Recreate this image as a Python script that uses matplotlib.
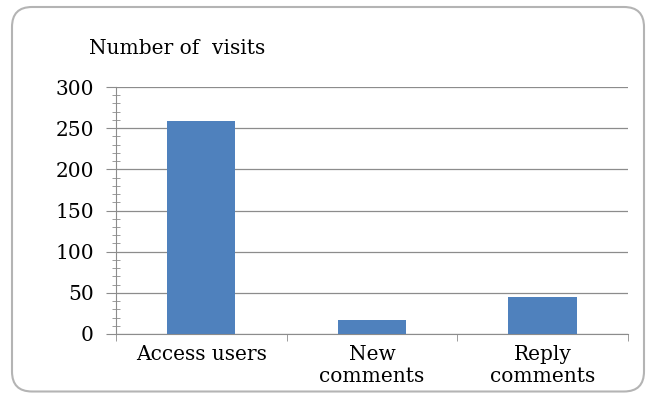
import matplotlib.pyplot as plt
from matplotlib.patches import FancyBboxPatch
from matplotlib.ticker import MultipleLocator, FixedLocator, NullFormatter

categories = ['Access users', 'New\ncomments', 'Reply\ncomments']
visits = [259, 17, 45]

plt.rcParams['font.family'] = ['DejaVu Serif']

fig = plt.figure(figsize=(6.46, 3.94), dpi=100)
fig.patch.set_facecolor('white')

# rounded frame around the chart (inches)
frame = FancyBboxPatch((0.12, 0.025), 6.32, 3.845, boxstyle='round,pad=0,rounding_size=0.2',
                       transform=fig.dpi_scale_trans, facecolor='none', edgecolor='#b4b4b4',
                       linewidth=1.5, zorder=-1)
fig.patches.append(frame)

ax = fig.add_axes([0.1796, 0.1523, 0.7924, 0.6268])
ax.patch.set_alpha(0)
x = list(range(len(categories)))
ax.bar(x, visits, width=0.4, color='#4f81bd', zorder=3)

ax.set_xlim(-0.5, 2.5)
ax.set_ylim(0, 300)
ax.yaxis.set_major_locator(MultipleLocator(50))
ax.yaxis.set_minor_locator(MultipleLocator(10))
ax.grid(axis='y', which='major', color='#8c8c8c', linewidth=0.9, zorder=0)

for s in ['top', 'right']:
    ax.spines[s].set_visible(False)
ax.spines['left'].set_color('#8c8c8c')
ax.spines['bottom'].set_color('#8c8c8c')

ax.tick_params(axis='y', which='major', length=7, color='#8c8c8c', labelsize=14.5, pad=9)
ax.tick_params(axis='y', which='minor', direction='inout', length=6, color='#8c8c8c')

ax.set_xticks(x)
ax.set_xticklabels(categories, fontsize=14.5, linespacing=1.2)
ax.tick_params(axis='x', which='major', length=0, pad=8)
ax.xaxis.set_minor_locator(FixedLocator([-0.5, 0.5, 1.5, 2.5]))
ax.xaxis.set_minor_formatter(NullFormatter())
ax.tick_params(axis='x', which='minor', length=5, color='#8c8c8c')

fig.text(0.137, 0.878, 'Number of  visits', fontsize=14.5, ha='left', va='center')

fig.savefig('out.png', dpi=100)
